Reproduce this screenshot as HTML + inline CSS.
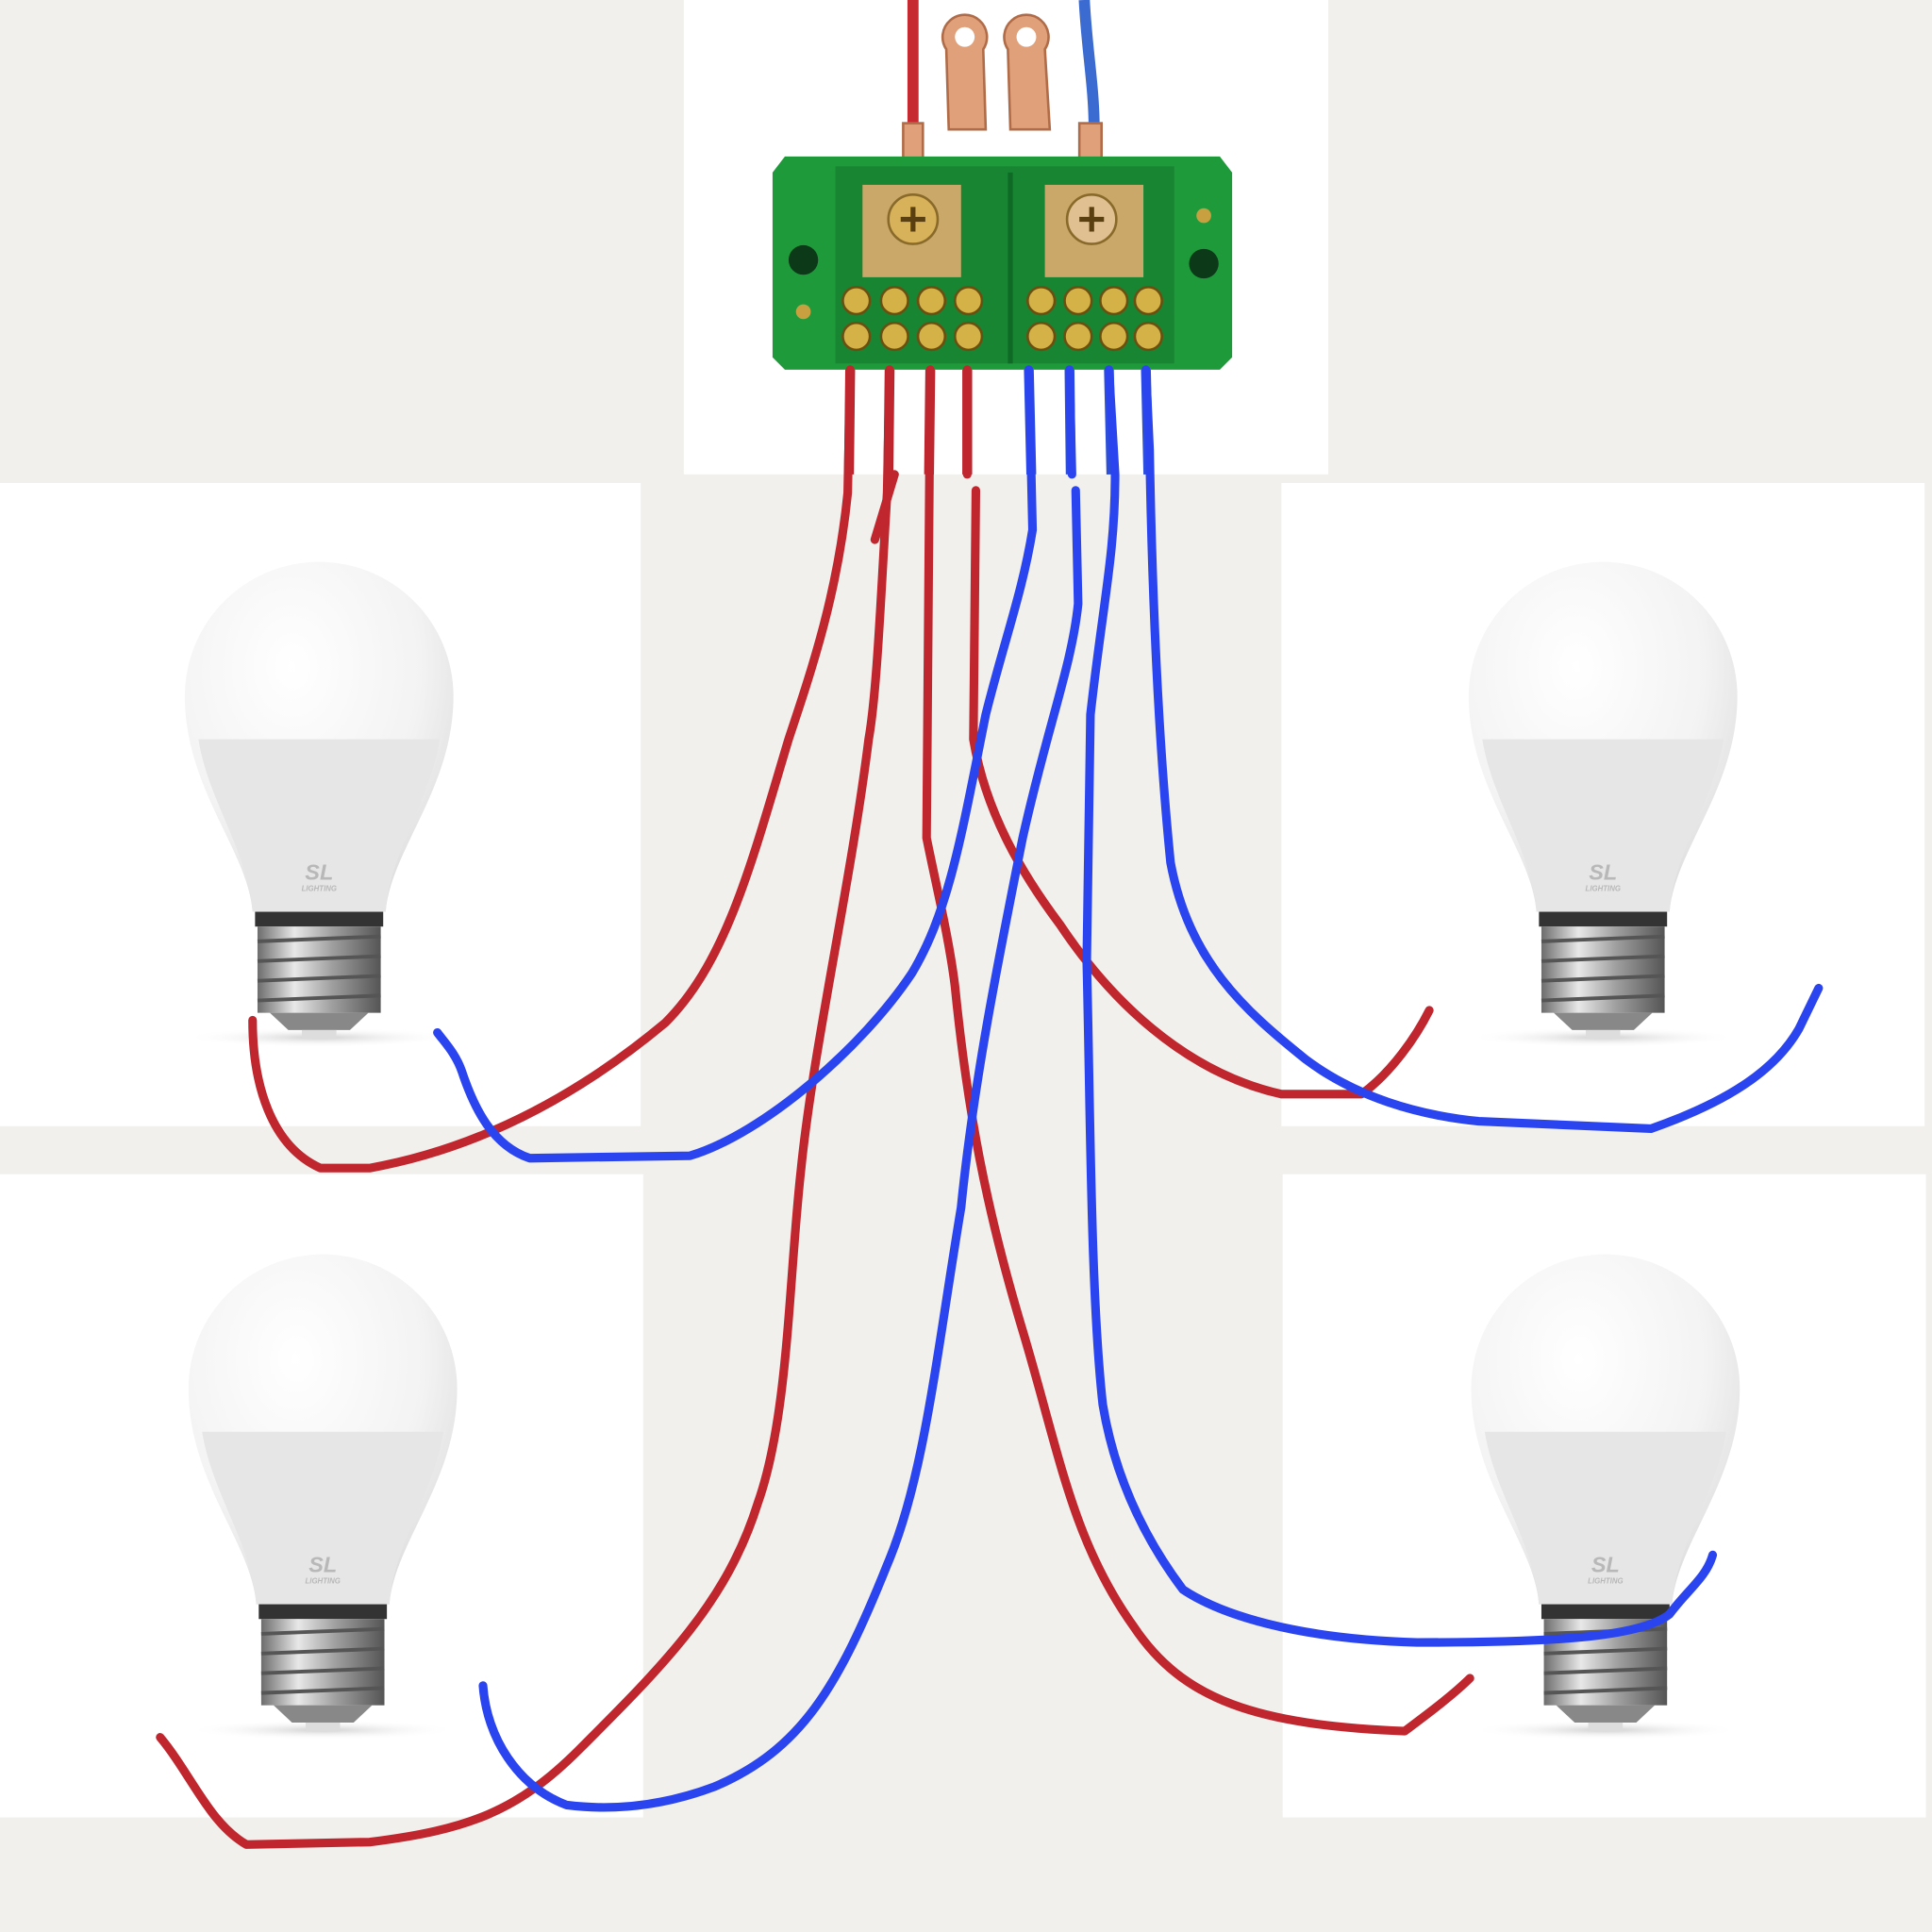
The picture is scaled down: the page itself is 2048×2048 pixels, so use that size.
<!DOCTYPE html>
<html><head><meta charset="utf-8"><style>html,body{margin:0;padding:0;background:#f1f0ed}svg{display:block}</style></head>
<body>
<svg width="2048" height="2048" viewBox="0 0 1568 1568" xmlns="http://www.w3.org/2000/svg">
<defs>
<radialGradient id="glob" cx="0.4" cy="0.3" r="0.8">
<stop offset="0" stop-color="#ffffff"/><stop offset="0.6" stop-color="#f3f3f3"/><stop offset="1" stop-color="#d8d8d8"/></radialGradient>
<linearGradient id="metal" x1="0" x2="1"><stop offset="0" stop-color="#6d6d6d"/><stop offset="0.3" stop-color="#e8e8e8"/><stop offset="0.6" stop-color="#a0a0a0"/><stop offset="1" stop-color="#555"/></linearGradient>
<radialGradient id="shad" cx="0.5" cy="0.5" r="0.5"><stop offset="0" stop-color="#cfcfcf"/><stop offset="1" stop-color="#fff" stop-opacity="0"/></radialGradient>
<g id="bulb">
<ellipse cx="0" cy="842" rx="110" ry="8" fill="url(#shad)"/>
<path d="M-54,740 C-58,690 -109,640 -109,565 A109,109 0 0 1 109,565 C109,640 58,690 54,740 Z" fill="url(#glob)"/>
<path d="M-98,600 L98,600 C90,650 58,690 54,740 L-54,740 C-58,690 -90,650 -98,600Z" fill="#e6e6e6"/>
<rect x="-52" y="740" width="104" height="12" fill="#333"/>
<rect x="-50" y="752" width="100" height="70" fill="url(#metal)"/>
<g stroke="#555" stroke-width="3"><line x1="-50" y1="764" x2="50" y2="760"/><line x1="-50" y1="780" x2="50" y2="776"/><line x1="-50" y1="796" x2="50" y2="792"/><line x1="-50" y1="812" x2="50" y2="808"/></g>
<path d="M-40,822 L40,822 L25,836 L-25,836Z" fill="#888"/>
<rect x="-14" y="836" width="28" height="7" fill="#ddd"/>
<text x="0" y="714" font-family="Liberation Sans,sans-serif" font-weight="bold" font-style="italic" font-size="18" fill="#b8b8b8" text-anchor="middle">SL</text>
<text x="0" y="723" font-family="Liberation Sans,sans-serif" font-weight="bold" font-style="italic" font-size="6" fill="#b8b8b8" text-anchor="middle">LIGHTING</text>
</g>
</defs>
<rect width="1568" height="1568" fill="#f1f0ed"/>
<rect x="555" y="0" width="523" height="385" fill="#fff"/>
<rect x="0" y="392" width="520" height="522" fill="#fff"/>
<rect x="1040" y="392" width="522" height="522" fill="#fff"/>
<rect x="0" y="953" width="522" height="522" fill="#fff"/>
<rect x="1041" y="953" width="522" height="522" fill="#fff"/>
<use href="#bulb" x="259" y="0"/>
<use href="#bulb" x="1301" y="0"/>
<use href="#bulb" x="262" y="562"/>
<use href="#bulb" x="1303" y="562"/>
<path d="M741,0 L741,115" stroke="#c62a30" stroke-width="9" fill="none"/>
<path d="M880,0 C882,40 888,70 888,105" stroke="#3b6ad0" stroke-width="9" fill="none"/>
<g fill="#e0a07a" stroke="#b06c48" stroke-width="2">
<path d="M768,40 A18,18 0 1 1 798,40 L800,105 L770,105Z"/>
<path d="M818,40 A18,18 0 1 1 848,40 L852,105 L820,105Z"/>
<rect x="733" y="100" width="16" height="50"/>
<rect x="876" y="100" width="18" height="50"/>
</g>
<circle cx="783" cy="30" r="8" fill="#fff"/><circle cx="833" cy="30" r="8" fill="#fff"/>
<path d="M637,127 L990,127 L1000,140 L1000,290 L990,300 L637,300 L627,290 L627,140Z" fill="#1f9a3a"/>
<rect x="678" y="135" width="275" height="160" fill="#188532"/>
<rect x="818" y="140" width="4" height="155" fill="#0f6a26"/>
<rect x="700" y="150" width="80" height="75" fill="#c9a86a"/>
<rect x="848" y="150" width="80" height="75" fill="#c9a86a"/>
<circle cx="741" cy="178" r="20" fill="#d8b25a" stroke="#8a6a2a" stroke-width="2"/>
<circle cx="886" cy="178" r="20" fill="#e0c090" stroke="#8a6a2a" stroke-width="2"/>
<path d="M731,178 h20 M741,168 v20 M876,178 h20 M886,168 v20" stroke="#5a4010" stroke-width="4"/>
<circle cx="652" cy="211" r="12" fill="#0c3a18"/><circle cx="977" cy="214" r="12" fill="#0c3a18"/>
<circle cx="652" cy="253" r="6" fill="#c9a040"/><circle cx="977" cy="175" r="6" fill="#c9a040"/>
<g fill="#d4b248" stroke="#6a5010" stroke-width="2">
<circle cx="695" cy="244" r="11"/><circle cx="726" cy="244" r="11"/><circle cx="756" cy="244" r="11"/><circle cx="786" cy="244" r="11"/>
<circle cx="845" cy="244" r="11"/><circle cx="875" cy="244" r="11"/><circle cx="904" cy="244" r="11"/><circle cx="932" cy="244" r="11"/>
<circle cx="695" cy="273" r="11"/><circle cx="726" cy="273" r="11"/><circle cx="756" cy="273" r="11"/><circle cx="786" cy="273" r="11"/>
<circle cx="845" cy="273" r="11"/><circle cx="875" cy="273" r="11"/><circle cx="904" cy="273" r="11"/><circle cx="932" cy="273" r="11"/>
</g>
<g stroke-width="8" fill="none">
<path d="M690,300 L689,385 M722,300 L721,385 M755,300 L754,385 M785,300 L785,385" stroke="#b8232b"/>
<path d="M835,300 L837,385 M868,300 L869,385 M900,300 L902,385 M930,300 L932,385" stroke="#2d4fd8"/>
</g>
<g fill="none" stroke-linecap="round" stroke-linejoin="round" stroke-width="7">
<g stroke="#c0262e">
<path d="M690,300 L688,400 C680,480 660,540 640,600 C610,700 590,780 540,830 C480,880 400,930 300,948 L260,948 C220,930 205,880 205,828"/>
<path d="M722,300 L720,400 C715,480 712,560 705,600 C690,720 660,850 650,950 C640,1040 640,1150 615,1220 C590,1300 540,1350 470,1420 C420,1470 380,1485 300,1495 L200,1497 C170,1480 155,1440 130,1410"/>
<path d="M726,385 L710,438"/>
<path d="M755,300 L752,680 C760,720 770,760 775,800 C785,900 800,980 830,1080 C860,1180 870,1250 920,1320 C960,1380 1020,1400 1140,1405 C1160,1390 1180,1375 1193,1362"/>
<path d="M785,300 L785,385"/>
<path d="M792,398 L790,600 C800,660 830,710 860,750 C900,810 960,870 1040,888 L1105,888 C1130,870 1150,840 1160,820"/>
</g>
<g stroke="#2a45f0">
<path d="M835,300 L838,430 C830,480 815,520 800,580 C780,680 770,740 740,790 C700,850 620,920 560,938 L430,940 C400,930 385,900 375,870 C370,855 360,845 355,838"/>
<path d="M868,300 L870,385"/>
<path d="M873,398 L875,490 C870,540 850,590 830,680 C810,780 790,880 780,980 C760,1100 750,1200 720,1270 C680,1370 650,1420 580,1450 C540,1465 500,1470 460,1465 C420,1450 395,1410 392,1368"/>
<path d="M900,300 L905,385 C905,450 895,490 885,580 L882,780 C885,900 885,1050 895,1140 C905,1200 930,1250 960,1290 C990,1310 1050,1330 1150,1333 C1250,1333 1330,1330 1355,1310 C1370,1290 1385,1280 1390,1262"/>
<path d="M930,300 L933,365 C935,480 940,600 950,700 C965,780 1010,820 1060,860 C1100,890 1150,905 1200,910 L1340,916 C1400,895 1440,870 1460,835 L1476,802"/>
</g>
</g>
</svg>
</body></html>
